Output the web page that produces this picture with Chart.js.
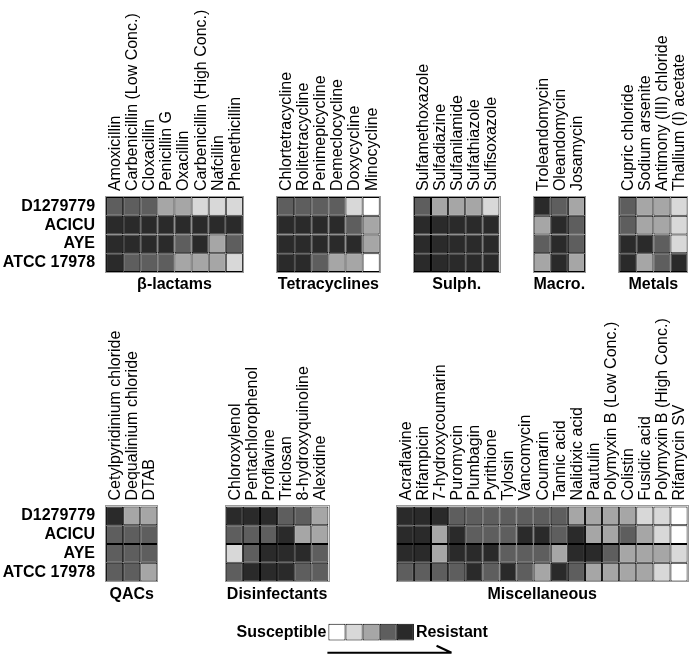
<!DOCTYPE html>
<html>
<head>
<meta charset="utf-8">
<script src="https://cdn.jsdelivr.net/npm/chart.js@4/dist/chart.umd.min.js"></script>
<style>
  html, body { margin: 0; padding: 0; background: #fff; }
  #wrap { position: relative; width: 691px; height: 661px; }
</style>
</head>
<body>
<div id="wrap"><canvas id="heatmap" width="691" height="661"></canvas></div>
<script>
// 0 = susceptible ... 4 = resistant
const strains = ["D1279779", "ACICU", "AYE", "ATCC 17978"];
const levelColors = ["#ffffff", "#d8d8d8", "#a6a6a6", "#5e5e5e", "#2a2a2a"];
const legendLevels = [0, 1, 2, 3, 4];

const betaLactams = ["Amoxicillin", "Carbenicillin (Low Conc.)", "Cloxacillin", "Penicillin G", "Oxacillin", "Carbenicillin (High Conc.)", "Nafcillin", "Phenethicillin"];
const betaLactamScores = [
  [3, 3, 3, 2, 2, 1, 1, 1],
  [4, 4, 4, 4, 4, 4, 4, 4],
  [4, 4, 4, 4, 3, 4, 2, 3],
  [4, 3, 3, 3, 2, 2, 2, 1],
];

const tetracyclines = ["Chlortetracycline", "Rolitetracycline", "Penimepicycline", "Demeclocycline", "Doxycycline", "Minocycline"];
const tetracyclineScores = [
  [3, 3, 3, 3, 1, 0],
  [4, 4, 4, 4, 3, 2],
  [4, 4, 4, 4, 4, 2],
  [4, 4, 3, 2, 2, 0],
];

const sulphonamides = ["Sulfamethoxazole", "Sulfadiazine", "Sulfanilamide", "Sulfathiazole", "Sulfisoxazole"];
const sulphonamideScores = [
  [3, 2, 2, 2, 1],
  [4, 4, 4, 4, 4],
  [4, 4, 4, 4, 4],
  [4, 4, 4, 4, 4],
];

const macrolides = ["Troleandomycin", "Oleandomycin", "Josamycin"];
const macrolideScores = [
  [4, 3, 2],
  [2, 4, 3],
  [3, 4, 3],
  [2, 4, 2],
];

const metals = ["Cupric chloride", "Sodium arsenite", "Antimony (III) chloride", "Thallium (I) acetate"];
const metalScores = [
  [3, 2, 2, 1],
  [3, 2, 2, 1],
  [4, 4, 3, 1],
  [4, 2, 3, 4],
];

const qacs = ["Cetylpyridinium chloride", "Dequalinium chloride", "DTAB"];
const qacScores = [
  [4, 2, 2],
  [3, 3, 3],
  [3, 3, 3],
  [3, 3, 2],
];

const disinfectants = ["Chloroxylenol", "Pentachlorophenol", "Proflavine", "Triclosan", "8-hydroxyquinoline", "Alexidine"];
const disinfectantScores = [
  [4, 4, 4, 3, 3, 2],
  [3, 3, 3, 4, 2, 2],
  [1, 3, 4, 4, 4, 3],
  [3, 4, 4, 4, 3, 3],
];

const miscellaneous = ["Acraflavine", "Rifampicin", "7-hydroxycoumarin", "Puromycin", "Plumbagin", "Pyrithione", "Tylosin", "Vancomycin", "Coumarin", "Tannic acid", "Nalidixic acid", "Pautulin", "Polymyxin B (Low Conc.)", "Colistin", "Fusidic acid", "Polymyxin B (High Conc.)", "Rifamycin SV"];
const miscellaneousScores = [
  [4, 4, 4, 3, 3, 3, 3, 3, 3, 3, 2, 2, 2, 2, 1, 1, 0],
  [4, 4, 2, 4, 3, 3, 3, 4, 4, 3, 4, 2, 2, 3, 2, 1, 0],
  [4, 4, 2, 4, 4, 4, 3, 3, 3, 2, 4, 4, 3, 2, 2, 2, 1],
  [3, 3, 3, 3, 4, 3, 4, 3, 2, 4, 3, 2, 2, 2, 2, 1, 0],
];

// where each panel sits, in cell units
const panels = [
  { title: "β-lactams", drugs: betaLactams, scores: betaLactamScores, col: 0, row: 0 },
  { title: "Tetracyclines", drugs: tetracyclines, scores: tetracyclineScores, col: 10, row: 0 },
  { title: "Sulph.", drugs: sulphonamides, scores: sulphonamideScores, col: 18, row: 0 },
  { title: "Macro.", drugs: macrolides, scores: macrolideScores, col: 25, row: 0 },
  { title: "Metals", drugs: metals, scores: metalScores, col: 30, row: 0 },
  { title: "QACs", drugs: qacs, scores: qacScores, col: 0, row: 16.5 },
  { title: "Disinfectants", drugs: disinfectants, scores: disinfectantScores, col: 7, row: 16.5 },
  { title: "Miscellaneous", drugs: miscellaneous, scores: miscellaneousScores, col: 17, row: 16.5 },
];
const legendCol = 13;
const legendRow = 22.75;

const cells = [];
for (const panel of panels) {
  panel.scores.forEach((rowScores, r) => {
    rowScores.forEach((level, c) => {
      cells.push({ x: panel.col + c + 0.5, y: [panel.row + r, panel.row + r + 1], level });
    });
  });
}
const legendCells = legendLevels.map((level, i) => ({
  x: legendCol + i + 0.5,
  y: [legendRow, legendRow + 0.9],
  level,
}));

const FONT = "'Liberation Sans', Arial, sans-serif";

const labelsPlugin = {
  id: "heatmapLabels",
  afterDatasetsDraw(chart) {
    const { ctx, scales } = chart;
    const x = scales.x;
    const y = scales.y;
    const unit = x.getPixelForValue(1) - x.getPixelForValue(0);
    ctx.save();

    for (const panel of panels) {
      const left = x.getPixelForValue(panel.col);
      const right = x.getPixelForValue(panel.col + panel.drugs.length);
      const top = y.getPixelForValue(panel.row);
      const bottom = y.getPixelForValue(panel.row + strains.length);

      ctx.strokeStyle = "#9a9a9a";
      ctx.lineWidth = 1;
      ctx.strokeRect(Math.round(left) - 0.5, Math.round(top) - 0.5, Math.round(right - left) + 1, Math.round(bottom - top) + 1);

      ctx.fillStyle = "#000";
      ctx.font = `16px ${FONT}`;
      ctx.textAlign = "left";
      ctx.textBaseline = "middle";
      panel.drugs.forEach((drug, c) => {
        ctx.save();
        ctx.translate(x.getPixelForValue(panel.col + c + 0.5) + 1, top - 6);
        ctx.rotate(-Math.PI / 2);
        ctx.fillText(drug, 0, 0);
        ctx.restore();
      });

      ctx.font = `bold 16px ${FONT}`;
      ctx.textAlign = "center";
      ctx.fillText(panel.title, (left + right) / 2, bottom + 13);

      if (panel.col === 0) {
        ctx.textAlign = "right";
        strains.forEach((strain, r) => {
          ctx.fillText(strain, left - 11, y.getPixelForValue(panel.row + r + 0.5));
        });
      }
    }

    // legend labels and arrow
    const lLeft = x.getPixelForValue(legendCol);
    const lRight = x.getPixelForValue(legendCol + legendLevels.length);
    const lMid = y.getPixelForValue(legendRow + 0.45);
    ctx.font = `bold 16px ${FONT}`;
    ctx.textAlign = "right";
    ctx.fillText("Susceptible", lLeft - 2, lMid);
    ctx.textAlign = "left";
    ctx.fillText("Resistant", lRight + 2, lMid);

    const arrowY = y.getPixelForValue(legendRow + 1.55);
    const arrowEnd = lRight + 2.2 * unit;
    ctx.strokeStyle = "#000";
    ctx.lineWidth = 2;
    ctx.beginPath();
    ctx.moveTo(lLeft - 1, arrowY);
    ctx.lineTo(arrowEnd, arrowY);
    ctx.moveTo(arrowEnd, arrowY);
    ctx.lineTo(arrowEnd - 15, arrowY - 7);
    ctx.stroke();

    ctx.restore();
  },
};

const cellStyle = {
  borderColor: "#000",
  borderWidth: 1,
  borderSkipped: false,
  inflateAmount: 0,
  grouped: false,
  barPercentage: 1,
  categoryPercentage: 1,
};

new Chart(document.getElementById("heatmap"), {
  type: "bar",
  data: {
    datasets: [
      { ...cellStyle, data: cells, backgroundColor: cells.map((cell) => levelColors[cell.level]) },
      { ...cellStyle, data: legendCells, backgroundColor: legendCells.map((cell) => levelColors[cell.level]) },
    ],
  },
  options: {
    responsive: false,
    animation: false,
    layout: { padding: 0 },
    plugins: {
      legend: { display: false },
      tooltip: { enabled: false },
    },
    scales: {
      x: { type: "linear", min: -6.2, max: 34.2, offset: false, display: false },
      y: { type: "linear", min: -10.51, max: 24.74, reverse: true, offset: false, display: false },
    },
  },
  plugins: [labelsPlugin],
});
</script>
</body>
</html>
